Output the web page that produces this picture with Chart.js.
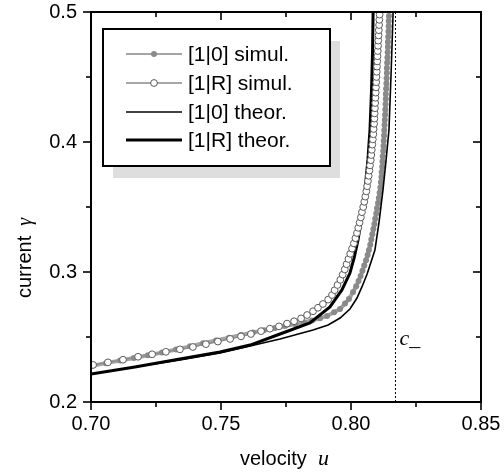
<!DOCTYPE html>
<html>
<head>
<meta charset="utf-8">
<script src="https://cdn.jsdelivr.net/npm/chart.js@4.4.0/dist/chart.umd.min.js"></script>
<style>
    html, body { margin: 0; padding: 0; background: #fff; }
    #wrap { width: 504px; height: 476px; }
</style>
</head>
<body>
<div id="wrap"><canvas id="velocityChart" width="504" height="476"></canvas></div>
<script>
// [1|0] simul. (grey filled dots)
const sim0U = [0.7004, 0.7058, 0.7112, 0.7165, 0.7219, 0.7273, 0.7327, 0.7381, 0.7431, 0.7481,
    0.7531, 0.7577, 0.7623, 0.7665, 0.7708, 0.7746, 0.7785, 0.7819, 0.7850, 0.7881,
    0.7908, 0.7935, 0.7958, 0.7977, 0.7992, 0.8008,
    0.8020, 0.8029, 0.8037, 0.8044, 0.8051, 0.8058, 0.8064, 0.8069, 0.8074, 0.8078,
    0.8082, 0.8086, 0.8090, 0.8093, 0.8097, 0.8100, 0.8104, 0.8107, 0.8110, 0.8113,
    0.8115, 0.8117, 0.8118, 0.8120, 0.8121, 0.8122, 0.8124, 0.8125, 0.8126, 0.8127,
    0.8128, 0.8129, 0.8130, 0.8131, 0.8132, 0.8133, 0.8134, 0.8134, 0.8135, 0.8136,
    0.8137, 0.8138, 0.8138, 0.8139, 0.8140, 0.8141, 0.8142, 0.8142, 0.8143, 0.8144,
    0.8145, 0.8145, 0.8146];
const sim0G = [0.2279, 0.2299, 0.2319, 0.2338, 0.2359, 0.2380, 0.2404, 0.2428, 0.2452, 0.2473,
    0.2495, 0.2515, 0.2535, 0.2552, 0.2569, 0.2585, 0.2600, 0.2614, 0.2627, 0.2644,
    0.2662, 0.2690, 0.2715, 0.2758, 0.2792, 0.2846,
    0.289, 0.293, 0.297, 0.301, 0.305, 0.309, 0.313, 0.317, 0.321, 0.325,
    0.329, 0.333, 0.337, 0.341, 0.345, 0.349, 0.353, 0.357, 0.361, 0.365,
    0.369, 0.373, 0.377, 0.381, 0.385, 0.389, 0.393, 0.397, 0.401, 0.405,
    0.409, 0.413, 0.417, 0.421, 0.425, 0.429, 0.433, 0.437, 0.441, 0.445,
    0.449, 0.453, 0.457, 0.461, 0.465, 0.469, 0.473, 0.477, 0.481, 0.485,
    0.489, 0.493, 0.497];

// [1|R] simul. (open circles)
const simRU = [0.7008, 0.7065, 0.7123, 0.7181, 0.7235, 0.7288, 0.7342, 0.7392, 0.7442, 0.7488,
    0.7535, 0.7577, 0.7615, 0.7654, 0.7688, 0.7723, 0.7754, 0.7781, 0.7808, 0.7831,
    0.7854, 0.7873, 0.7892, 0.7912, 0.7927,
    0.7937, 0.7948, 0.7959, 0.7968, 0.7976, 0.7983, 0.7990, 0.7997, 0.8004, 0.8011,
    0.8017, 0.8023, 0.8028, 0.8033, 0.8038, 0.8042, 0.8047, 0.8051, 0.8055, 0.8059,
    0.8062, 0.8065, 0.8068, 0.8071, 0.8073, 0.8076, 0.8078, 0.8080, 0.8082, 0.8084,
    0.8086, 0.8087, 0.8089, 0.8090, 0.8091, 0.8092, 0.8093, 0.8094, 0.8095, 0.8096,
    0.8097, 0.8098, 0.8099, 0.8100, 0.8101, 0.8102, 0.8103, 0.8104, 0.8105, 0.8106,
    0.8107, 0.8108, 0.8109, 0.8110];
const simRG = [0.2285, 0.2305, 0.2325, 0.2348, 0.2367, 0.2386, 0.2405, 0.2423, 0.2445, 0.2465,
    0.2485, 0.2505, 0.2523, 0.2545, 0.2564, 0.2582, 0.2603, 0.2621, 0.2643, 0.2669,
    0.2698, 0.2725, 0.2754, 0.2788, 0.2823,
    0.286, 0.290, 0.294, 0.298, 0.302, 0.306, 0.310, 0.314, 0.318, 0.322,
    0.326, 0.330, 0.334, 0.338, 0.342, 0.346, 0.350, 0.354, 0.358, 0.362,
    0.366, 0.370, 0.374, 0.378, 0.382, 0.386, 0.390, 0.394, 0.398, 0.402,
    0.406, 0.410, 0.414, 0.418, 0.422, 0.426, 0.430, 0.434, 0.438, 0.442,
    0.446, 0.450, 0.454, 0.458, 0.462, 0.466, 0.470, 0.474, 0.478, 0.482,
    0.486, 0.490, 0.494, 0.498];

// [1|0] theor. (thin black)
const th0U = [0.7000, 0.7169, 0.7342, 0.7496, 0.7612, 0.7727, 0.7854, 0.7912, 0.7958, 0.7996,
    0.8023, 0.8042, 0.8062, 0.8077, 0.8092, 0.8108, 0.8123, 0.8135, 0.8146, 0.8154, 0.8162];
const th0G = [0.2215, 0.2269, 0.2323, 0.2377, 0.2431, 0.2485, 0.2554, 0.2592, 0.2646, 0.2715,
    0.2800, 0.2885, 0.2985, 0.3077, 0.3169, 0.3385, 0.3631, 0.3862, 0.4092, 0.4515, 0.5000];

// [1|R] theor. (thick black)
const thRU = [0.7000, 0.7169, 0.7342, 0.7496, 0.7612, 0.7727, 0.7842, 0.7919, 0.7965, 0.7996,
    0.8012, 0.8027, 0.8042, 0.8054, 0.8065, 0.8073, 0.8079, 0.8083, 0.8085];
const thRG = [0.2215, 0.2269, 0.2331, 0.2385, 0.2438, 0.2523, 0.2608, 0.2731, 0.2862, 0.2992,
    0.3108, 0.3246, 0.3438, 0.3631, 0.3862, 0.4092, 0.4400, 0.4708, 0.5000];

const cMinus = 0.8171;
const xMajor = [0.70, 0.75, 0.80, 0.85];
const xMinor = [0.725, 0.775, 0.825];
const yMajor = [0.2, 0.3, 0.4, 0.5];
const yMinor = [0.25, 0.35, 0.45];
const seriesLabels = ['[1|0] simul.', '[1|R] simul.', '[1|0] theor.', '[1|R] theor.'];

const toPoints = (us, gs) => us.map((u, i) => ({ x: u, y: gs[i] }));

const frameAndText = {
    id: 'frameAndText',
    afterDatasetsDraw(chart) {
        const { ctx, chartArea: { left, right, top, bottom }, scales: { x, y } } = chart;
        ctx.save();
        ctx.strokeStyle = '#000';
        ctx.fillStyle = '#000';

        // frame
        ctx.lineWidth = 2;
        ctx.strokeRect(left, top, right - left, bottom - top);

        // ticks: outward on bottom/left, inward on top/right
        const seg = (x1, y1, x2, y2) => {
            ctx.beginPath(); ctx.moveTo(x1, y1); ctx.lineTo(x2, y2); ctx.stroke();
        };
        ctx.lineWidth = 1.6;
        xMajor.forEach(v => { const p = x.getPixelForValue(v); seg(p, bottom, p, bottom + 8); seg(p, top, p, top + 8); });
        xMinor.forEach(v => { const p = x.getPixelForValue(v); seg(p, bottom, p, bottom + 5); seg(p, top, p, top + 5); });
        yMajor.forEach(v => { const p = y.getPixelForValue(v); seg(left - 8, p, left, p); seg(right - 8, p, right, p); });
        yMinor.forEach(v => { const p = y.getPixelForValue(v); seg(left - 5, p, left, p); seg(right - 5, p, right, p); });

        // c_ label next to the dotted line
        ctx.font = 'italic 22px "Liberation Serif"';
        ctx.textBaseline = 'alphabetic';
        ctx.textAlign = 'left';
        ctx.fillText('c_', x.getPixelForValue(cMinus) + 4, y.getPixelForValue(0.2435));

        // axis titles
        ctx.font = '20px "Liberation Sans"';
        ctx.fillText('velocity', 240, 465);
        ctx.font = 'italic 22px "Liberation Serif"';
        ctx.fillText('u', 318, 465);

        ctx.save();
        ctx.translate(31, 298);
        ctx.rotate(-Math.PI / 2);
        ctx.font = '20px "Liberation Sans"';
        ctx.fillText('current', 0, 0);
        const w = ctx.measureText('current').width;
        ctx.font = 'italic 20px "Liberation Serif"';
        ctx.fillText('γ', w + 10, 0);
        ctx.restore();

        // legend with drop shadow
        const bx = 103, by = 29, bw = 227, bh = 137;
        ctx.fillStyle = '#dedede';
        ctx.fillRect(bx + 10, by + 12, bw, bh);
        ctx.fillStyle = '#fff';
        ctx.fillRect(bx, by, bw, bh);
        ctx.lineWidth = 2;
        ctx.strokeStyle = '#000';
        ctx.strokeRect(bx, by, bw, bh);

        const rows = [54, 83, 112, 140];
        const sampleWidths = [2, 1.4, 1.6, 3];
        const x1 = 126, x2 = 182, xm = 154;
        ctx.font = '21px "Liberation Sans"';
        ctx.textBaseline = 'middle';
        chart.data.datasets.slice(0, 4).forEach((ds, i) => {
            const ry = rows[i];
            ctx.strokeStyle = ds.borderColor;
            ctx.lineWidth = sampleWidths[i];
            seg(x1, ry, x2, ry);
            if (ds.pointRadius > 0) {
                ctx.beginPath();
                ctx.arc(xm, ry, ds.pointRadius, 0, Math.PI * 2);
                ctx.fillStyle = ds.pointBackgroundColor;
                ctx.fill();
                if (ds.pointBorderWidth > 0) {
                    ctx.lineWidth = ds.pointBorderWidth;
                    ctx.strokeStyle = ds.pointBorderColor;
                    ctx.stroke();
                }
            }
            ctx.fillStyle = '#000';
            ctx.fillText(ds.label, 188, ry + 1);
        });
        ctx.restore();
    }
};

const ctx = document.getElementById('velocityChart').getContext('2d');
const velocityChart = new Chart(ctx, {
    type: 'scatter',
    data: {
        datasets: [
            {
                label: seriesLabels[0],
                data: toPoints(sim0U, sim0G),
                showLine: true,
                borderColor: '#a4a4a4',
                borderWidth: 4,
                pointRadius: 3,
                pointBackgroundColor: '#8a8a8a',
                pointBorderColor: '#8a8a8a',
                pointBorderWidth: 0,
                order: 5
            },
            {
                label: seriesLabels[1],
                data: toPoints(simRU, simRG),
                showLine: true,
                borderColor: '#8a8a8a',
                borderWidth: 1.2,
                pointRadius: 3.4,
                pointBackgroundColor: '#fff',
                pointBorderColor: '#5a5a5a',
                pointBorderWidth: 1,
                order: 1
            },
            {
                label: seriesLabels[2],
                data: toPoints(th0U, th0G),
                showLine: true,
                borderColor: '#000',
                borderWidth: 1.6,
                pointRadius: 0,
                order: 3
            },
            {
                label: seriesLabels[3],
                data: toPoints(thRU, thRG),
                showLine: true,
                borderColor: '#000',
                borderWidth: 3,
                pointRadius: 0,
                order: 2
            },
            {
                label: 'c_',
                data: [{ x: cMinus, y: 0.2 }, { x: cMinus, y: 0.5 }],
                showLine: true,
                borderColor: '#000',
                borderWidth: 1,
                borderDash: [2, 2],
                pointRadius: 0,
                order: 4
            }
        ]
    },
    options: {
        responsive: false,
        animation: false,
        devicePixelRatio: 1,
        layout: { padding: { left: 0, right: 23, top: 12, bottom: 0 } },
        plugins: {
            legend: { display: false },
            tooltip: { enabled: false }
        },
        elements: { line: { tension: 0 } },
        scales: {
            x: {
                type: 'linear',
                min: 0.7,
                max: 0.85,
                grid: { display: false, drawTicks: false },
                border: { display: false },
                ticks: {
                    stepSize: 0.05,
                    padding: 10,
                    color: '#000',
                    font: { family: 'Liberation Sans', size: 20 },
                    callback: v => v.toFixed(2)
                },
                afterFit: scale => {
                    scale.height = 74;
                    scale.paddingLeft = 0;
                    scale.paddingRight = 0;
                }
            },
            y: {
                type: 'linear',
                min: 0.2,
                max: 0.5,
                grid: { display: false, drawTicks: false },
                border: { display: false },
                ticks: {
                    stepSize: 0.1,
                    padding: 14,
                    color: '#000',
                    font: { family: 'Liberation Sans', size: 20 },
                    callback: v => v.toFixed(1)
                },
                afterFit: scale => {
                    scale.width = 91;
                    scale.paddingTop = 0;
                    scale.paddingBottom = 0;
                }
            }
        }
    },
    plugins: [frameAndText]
});
</script>
</body>
</html>
